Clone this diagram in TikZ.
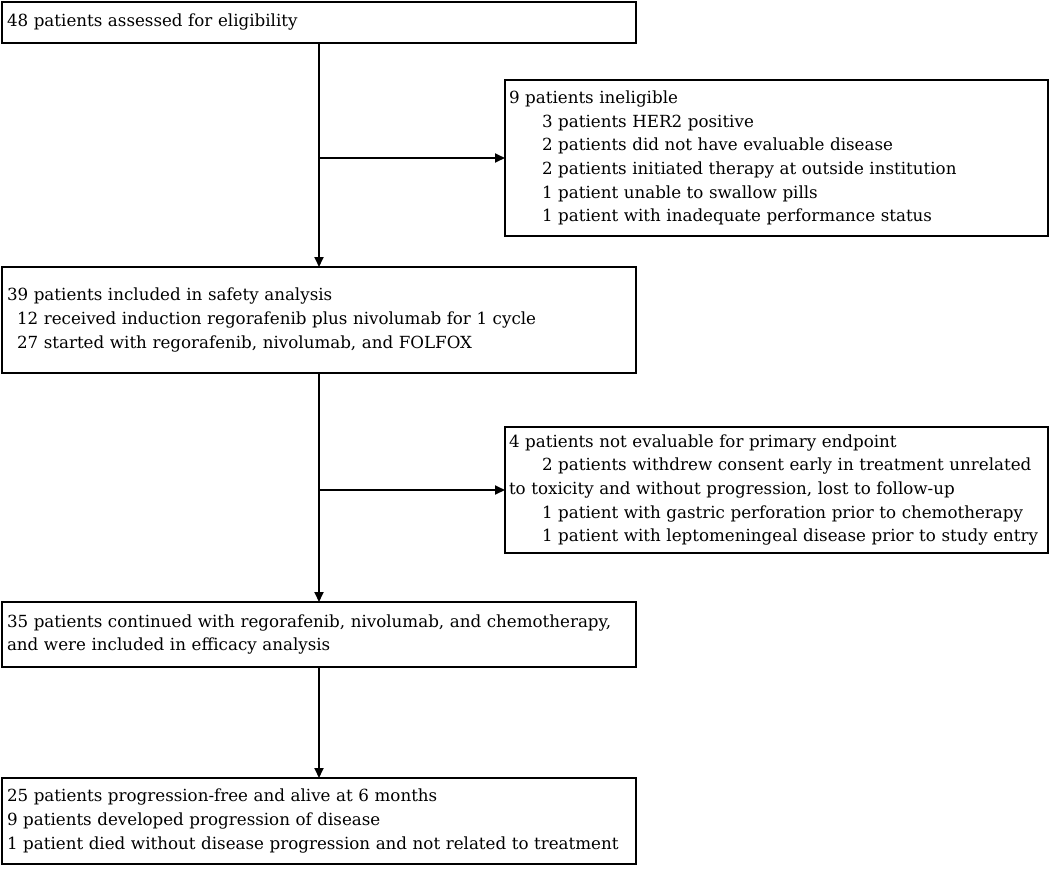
\documentclass[tikz,border=0pt]{standalone}
\usepackage{fontspec}
\setmainfont{DejaVu Serif}
\usepackage{tikz}
\usetikzlibrary{positioning,arrows.meta}

\tikzset{
	flowbox/.style={draw, line width=2pt, outer sep=0pt, align=left, anchor=north west, inner xsep=5pt, inner ysep=0pt, font=\fontsize{16.7}{23.6}\selectfont},
	leftbox/.style={flowbox, text width=624pt},
	rightbox/.style={flowbox, inner xsep=4pt, text width=535pt},
	flowarrow/.style={-{Triangle[length=10pt,width=9pt]}, line width=1.8pt}
}

\newcommand{\subindent}{\hspace*{33pt}}

\begin{document}
\begin{tikzpicture}[x=1pt,y=1pt]
	\useasboundingbox (0,0) rectangle (1050,-868);
	\node[leftbox, minimum height=41pt] (assessed) at (2,-2) {48 patients assessed for eligibility}; 
	\node[rightbox, minimum height=156pt] (inelig) at (505,-80) {9 patients ineligible\\
		\subindent 3 patients HER2 positive\\
		\subindent 2 patients did not have evaluable disease\\
		\subindent 2 patients initiated therapy at outside institution\\
		\subindent 1 patient unable to swallow pills\\
		\subindent 1 patient with inadequate performance status}; 
	\node[leftbox, minimum height=106pt, below=224pt of assessed.south west, anchor=north west] (safety) {39 patients included in safety analysis\\
		\hspace*{10pt}12 received induction regorafenib plus nivolumab for 1 cycle\\
		\hspace*{10pt}27 started with regorafenib, nivolumab, and FOLFOX}; 
	\node[rightbox, minimum height=126pt] (noteval) at (505,-427) {4 patients not evaluable for primary endpoint\\
		\subindent 2 patients withdrew consent early in treatment unrelated\\
		to toxicity and without progression, lost to follow-up\\
		\subindent 1 patient with gastric perforation prior to chemotherapy\\
		\subindent 1 patient with leptomeningeal disease prior to study entry};
	\node[leftbox, minimum height=65pt, below=229pt of safety.south west, anchor=north west] (efficacy) {35 patients continued with regorafenib, nivolumab, and chemotherapy,\\
		and were included in efficacy analysis};
	\node[leftbox, minimum height=86pt, below=111pt of efficacy.south west, anchor=north west] (outcome) {25 patients progression-free and alive at 6 months\\
		9 patients developed progression of disease\\
		1 patient died without disease progression and not related to treatment};
	
	\draw[flowarrow] (assessed) -- (safety);
	\draw[flowarrow] (assessed.south |- inelig.west) -- (inelig.west);
	\draw[flowarrow] (safety) -- (efficacy);
	\draw[flowarrow] (safety.south |- noteval.west) -- (noteval.west);
	\draw[flowarrow] (efficacy) -- (outcome);
\end{tikzpicture}
\end{document}
